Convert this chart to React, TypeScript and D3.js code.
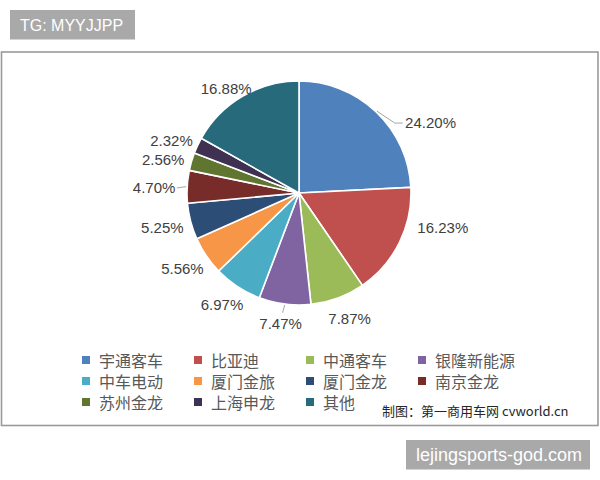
import React from 'react';
import * as d3 from 'd3';

const categories = ['宇通客车', '比亚迪', '中通客车', '银隆新能源', '中车电动', '厦门金旅', '厦门金龙', '南京金龙', '苏州金龙', '上海申龙', '其他'];
const shares = [24.20, 16.23, 7.87, 7.47, 6.97, 5.56, 5.25, 4.70, 2.56, 2.32, 16.88];
const shareLabels = ['24.20%', '16.23%', '7.87%', '7.47%', '6.97%', '5.56%', '5.25%', '4.70%', '2.56%', '2.32%', '16.88%'];
const colors = ['#4F81BD', '#C0504D', '#9BBB59', '#8064A2', '#4BACC6', '#F79646', '#2C4D75', '#772C2A', '#5F7530', '#3F3151', '#276A7C'];

// label layout (polar: angle in degrees from 12 o'clock, radius) — Excel "best fit" placement
const labelPolar: [number, number][] = [[62, 149], [103.7, 148], [158, 135], [188, 132], [214.5, 136], [237, 139], [255.7, 141], [272, 145], [284, 140], [292.5, 138], [325, 127]];
const leaders = [true, false, false, true, false, false, false, true, false, false, false];

const W = 600, H = 480;
const cx = 299, cy = 193, R = 112;

export default function App() {
  const pie = d3.pie<number>().sort(null).value((d) => d);
  const arcs = pie(shares);
  const arc = d3.arc<d3.PieArcDatum<number>>().innerRadius(0).outerRadius(R);
  const pt = (a: number, r: number): [number, number] => [cx + Math.sin(a) * r, cy - Math.cos(a) * r];
  const labelFont = '"Liberation Sans", Arial, sans-serif';
  const cjk = '"Noto Sans CJK SC", "Noto Sans", sans-serif';

  const legendX = d3.scaleLinear().domain([0, 3]).range([82, 418]);
  const legendY = d3.scaleLinear().domain([0, 2]).range([360, 402]);

  return (
    <svg width={W} height={H} style={{ position: 'absolute', left: 0, top: 0, background: '#fff' }}>
      <rect x={0} y={0} width={W} height={H} fill="#fff" />
      {/* frame */}
      <rect x={1.5} y={52} width={596.5} height={373.5} fill="none" stroke="#9a9a9a" strokeWidth={1.6} />

      {/* pie */}
      <g transform={`translate(${cx},${cy})`}>
        {arcs.map((a, i) => (
          <path key={i} d={arc(a) || ''} fill={colors[i]} stroke="#fff" strokeWidth={1.6} strokeLinejoin="round" />
        ))}
      </g>

      {/* labels */}
      {arcs.map((a, i) => {
        const [ang, r] = labelPolar[i];
        const [lx, ly] = pt((ang * Math.PI) / 180, r);
        const mid = (a.startAngle + a.endAngle) / 2;
        const w = shareLabels[i].length * 8.3;
        let leader = null;
        if (leaders[i]) {
          const [ax, ay] = pt(mid, R + 1);
          let ex: number, ey: number, pts: string;
          if (Math.abs(lx - ax) > Math.abs(ly - ay) * 2 || i === 0) {
            ex = lx < ax ? lx + w / 2 + 2 : lx - w / 2 - 3;
            ey = ly;
            const elbowX = lx < ax ? ex + 4 : ex - 8;
            pts = i === 0 ? `${ax},${ay} ${elbowX},${ey} ${ex},${ey}` : `${ax},${ay} ${ex},${ey}`;
          } else {
            ex = lx + 2;
            ey = ly - 11;
            pts = `${ax},${ay} ${ex},${ey}`;
          }
          leader = <polyline points={pts} fill="none" stroke="#a6a6a6" strokeWidth={1} />;
        }
        return (
          <g key={i}>
            {leader}
            <text x={lx} y={ly} textAnchor="middle" dy="0.36em" fontFamily={labelFont} fontSize={15} fill="#404040">
              {shareLabels[i]}
            </text>
          </g>
        );
      })}

      {/* legend */}
      {categories.map((c, i) => {
        const col = i % 4, row = Math.floor(i / 4);
        const x = legendX(col), y = legendY(row);
        return (
          <g key={c}>
            <rect x={x} y={y - 4} width={8} height={8} fill={colors[i]} />
            <text x={x + 17} y={y} dominantBaseline="central" fontFamily={cjk} fontSize={16} fill="#595959">{c}</text>
          </g>
        );
      })}

      {/* source */}
      <text x={382} y={410} dominantBaseline="central" fontFamily={cjk} fontSize={13} fill="#262626">制图：第一商用车网 cvworld.cn</text>

      {/* watermark boxes */}
      <rect x={10} y={10} width={125} height={29.5} fill="#a9a9a9" />
      <text x={20} y={30.5} fontFamily={labelFont} fontSize={16} fill="#fff">TG: MYYJJPP</text>
      <rect x={406} y={440} width={184} height={29.5} fill="#a9a9a9" />
      <text x={416} y={461} fontFamily={labelFont} fontSize={18} fill="#fff">lejingsports-god.com</text>
    </svg>
  );
}
